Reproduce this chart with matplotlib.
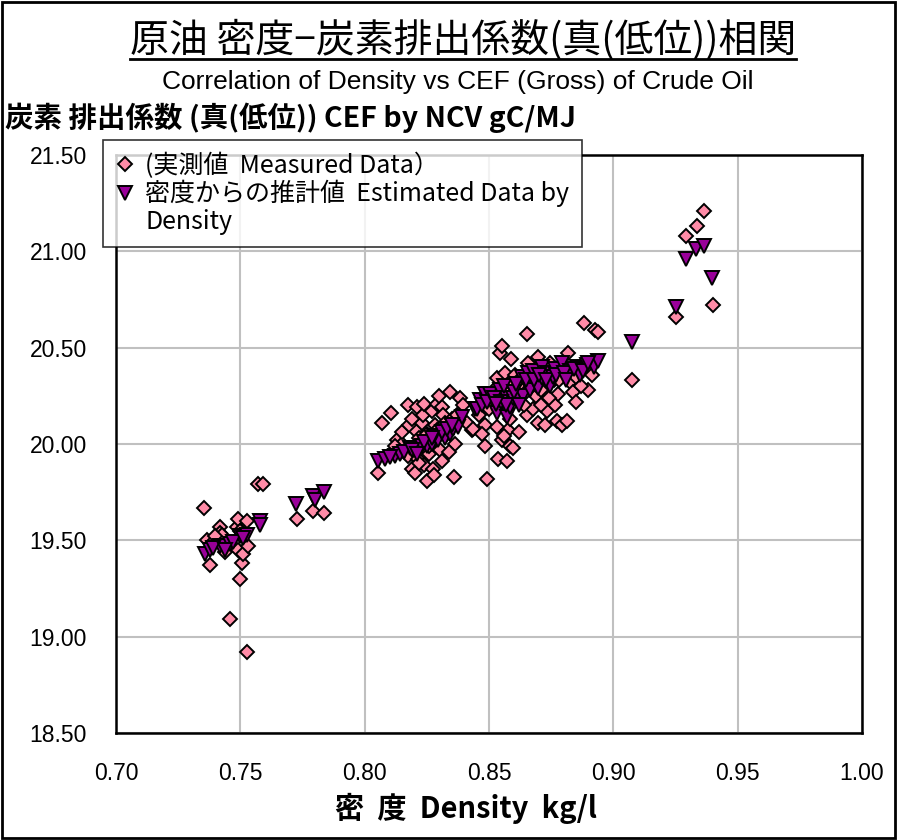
import matplotlib
matplotlib.use("Agg")
import matplotlib.pyplot as plt
from matplotlib.lines import Line2D
from matplotlib.patches import Rectangle

plt.rcParams['font.family'] = ['Noto Sans CJK JP', 'DejaVu Sans']
LATIN = ['Liberation Sans', 'DejaVu Sans']

# measured density (kg/l) and carbon emission factor (gC/MJ)
measured_density = [
    0.7354, 0.7365, 0.7378, 0.7391, 0.7418, 0.7418, 0.7425, 0.7458, 0.7485, 0.7492,
    0.7492, 0.7500, 0.7508, 0.7512, 0.7526, 0.7526, 0.7572, 0.7592, 0.7727, 0.7793,
    0.7836, 0.7400, 0.7440, 0.7500, 0.7530,
    0.8055, 0.8071, 0.8105, 0.8129, 0.8176, 0.8176, 0.8189, 0.8202, 0.8202, 0.8212,
    0.8213, 0.8232, 0.8236, 0.8240, 0.8240, 0.8249, 0.8269, 0.8276, 0.8279, 0.8283,
    0.8289, 0.8303, 0.8310, 0.8316, 0.8323, 0.8343, 0.8360, 0.8363, 0.8383, 0.8397,
    0.8430, 0.8150, 0.8260, 0.8330, 0.8220, 0.8150, 0.8180, 0.8250, 0.8290, 0.8350,
    0.8260, 0.8220, 0.8310, 0.8340, 0.8120, 0.8370, 0.8410, 0.8190, 0.8300,
    0.8437, 0.8484, 0.8484, 0.8491, 0.8531, 0.8531, 0.8537, 0.8544, 0.8551, 0.8553,
    0.8564, 0.8571, 0.8571, 0.8577, 0.8584, 0.8584, 0.8598, 0.8598, 0.8604, 0.8651,
    0.8651, 0.8658, 0.8678, 0.8698, 0.8698, 0.8725, 0.8732, 0.8745, 0.8765, 0.8772,
    0.8779, 0.8792, 0.8812, 0.8819, 0.8826, 0.8839, 0.8883, 0.8899, 0.8913, 0.8926,
    0.8939, 0.8600, 0.8620, 0.8690, 0.8760, 0.8850, 0.8500, 0.8640, 0.8460, 0.8500,
    0.8520, 0.8560, 0.8620, 0.8670, 0.8710, 0.8740, 0.8780, 0.8800, 0.8850, 0.8870,
    0.8680, 0.8590, 0.8710, 0.8640, 0.8470, 0.8560, 0.8620,
    0.9076, 0.9253, 0.9292, 0.9335, 0.9366, 0.9399,
]
measured_cef = [
    19.67, 19.50, 19.37, 19.49, 19.57, 19.54, 19.53, 19.09, 19.57, 19.61,
    19.45, 19.30, 19.38, 19.43, 19.60, 18.92, 19.79, 19.79, 19.61, 19.65,
    19.64, 19.52, 19.44, 19.55, 19.47,
    19.85, 20.11, 20.16, 20.02, 20.20, 19.94, 19.87, 20.07, 19.85, 20.19,
    19.92, 20.11, 20.15, 20.21, 19.89, 19.81, 20.17, 19.87, 19.84, 20.10,
    20.21, 19.97, 20.19, 20.15, 20.11, 20.27, 19.83, 20.00, 20.24, 20.20,
    20.07, 20.00, 19.95, 20.05, 20.03, 20.06, 20.10, 20.05, 20.07, 20.13,
    19.99, 19.90, 19.91, 19.96, 19.99, 20.15, 20.11, 20.13, 20.25,
    20.08, 20.10, 19.99, 19.82, 20.09, 20.34, 19.92, 20.47, 20.02, 20.51,
    20.37, 19.91, 20.26, 20.07, 20.13, 19.99, 20.32, 19.98, 20.36, 20.57,
    20.15, 20.42, 20.18, 20.45, 20.11, 20.10, 20.17, 20.42, 20.20, 20.12,
    20.26, 20.10, 20.12, 20.47, 20.32, 20.27, 20.63, 20.28, 20.36, 20.59,
    20.58, 20.22, 20.30, 20.25, 20.33, 20.22, 20.21, 20.20, 20.15, 20.18,
    20.28, 20.23, 20.33, 20.30, 20.28, 20.24, 20.33, 20.40, 20.35, 20.30,
    20.38, 20.44, 20.20, 20.26, 20.05, 20.04, 20.06,
    20.33, 20.66, 21.08, 21.13, 21.21, 20.72,
]

# values estimated from density
estimated_density = [
    0.7358, 0.7378, 0.7418, 0.7438, 0.7458, 0.7499, 0.7526, 0.7579, 0.7579, 0.7724,
    0.7793, 0.7800, 0.7836, 0.7390, 0.7470, 0.7510, 0.7440,
    0.8055, 0.8082, 0.8122, 0.8142, 0.8182, 0.8202, 0.8229, 0.8249, 0.8269, 0.8296,
    0.8323, 0.8343, 0.8356, 0.8376, 0.8390, 0.8443, 0.8464, 0.8100, 0.8160, 0.8190,
    0.8240, 0.8280, 0.8310, 0.8330, 0.8270, 0.8210, 0.8350,
    0.8450, 0.8484, 0.8504, 0.8531, 0.8544, 0.8571, 0.8571, 0.8584, 0.8598, 0.8624,
    0.8631, 0.8638, 0.8658, 0.8665, 0.8678, 0.8698, 0.8712, 0.8712, 0.8732, 0.8745,
    0.8758, 0.8765, 0.8792, 0.8826, 0.8852, 0.8866, 0.8893, 0.8922, 0.8937, 0.8470,
    0.8490, 0.8520, 0.8550, 0.8560, 0.8600, 0.8610, 0.8650, 0.8680, 0.8700, 0.8730,
    0.8770, 0.8800, 0.8810, 0.8840, 0.8880, 0.8900, 0.8570, 0.8620, 0.8530,
    0.9076, 0.9253, 0.9293, 0.9334, 0.9366, 0.9398,
]
estimated_cef = [
    19.43, 19.45, 19.47, 19.47, 19.48, 19.52, 19.53, 19.60, 19.58, 19.69,
    19.73, 19.71, 19.75, 19.46, 19.49, 19.51, 19.45,
    19.91, 19.92, 19.94, 19.95, 19.98, 19.98, 19.99, 19.99, 20.00, 20.02,
    20.03, 20.05, 20.08, 20.09, 20.14, 20.18, 20.23, 19.93, 19.96, 19.97,
    20.01, 20.04, 20.06, 20.08, 20.03, 19.95, 20.10,
    20.18, 20.26, 20.26, 20.16, 20.28, 20.24, 20.14, 20.19, 20.24, 20.23,
    20.35, 20.25, 20.37, 20.28, 20.38, 20.29, 20.40, 20.34, 20.37, 20.30,
    20.35, 20.39, 20.42, 20.38, 20.40, 20.36, 20.41, 20.40, 20.43, 20.20,
    20.22, 20.24, 20.22, 20.30, 20.27, 20.31, 20.33, 20.33, 20.36, 20.33,
    20.36, 20.37, 20.33, 20.39, 20.38, 20.42, 20.20, 20.20, 20.21,
    20.53, 20.71, 20.96, 21.01, 21.03, 20.86,
]

x_ticks = [0.70, 0.75, 0.80, 0.85, 0.90, 0.95, 1.00]
y_ticks = [18.50, 19.00, 19.50, 20.00, 20.50, 21.00, 21.50]

fig = plt.figure(figsize=(8.97, 8.40), dpi=100)
ax = fig.add_axes([0.1293, 0.1274, 0.8317, 0.6881])

meas, = ax.plot(measured_density, measured_cef, linestyle='none', marker='D',
                markersize=7.3, markerfacecolor='#FF8BA7', markeredgecolor='black',
                markeredgewidth=1.4, zorder=3)
est, = ax.plot(estimated_density, estimated_cef, linestyle='none', marker='v',
               markersize=10, markerfacecolor='#990099', markeredgecolor='black',
               markeredgewidth=1.4, zorder=4)

ax.set_xlim(0.70, 1.00)
ax.set_ylim(18.50, 21.50)
ax.set_xticks(x_ticks)
ax.set_yticks(y_ticks)
ax.set_xticklabels(['%.2f' % v for v in x_ticks], fontsize=16.5, family=LATIN)
ax.set_yticklabels(['%.2f' % v for v in y_ticks], fontsize=16.5, family=LATIN)
ax.tick_params(axis='x', length=0, pad=21)
ax.tick_params(axis='y', length=0, pad=21)
ax.grid(True, color='#C0C0C0', linewidth=1.5)
ax.set_axisbelow(True)
for sp in ax.spines.values():
    sp.set_linewidth(1.8)
    sp.set_color('black')

# the wrapped second label gets its own handle-less row
blank = Line2D([], [], linestyle='none', marker=None)
leg = ax.legend([meas, est, blank],
                ['(実測値  Measured Data）', '密度からの推計値  Estimated Data by',
                 'Density'],
                loc='upper left', bbox_to_anchor=(-0.018, 1.026),
                fontsize=18, frameon=True, fancybox=False, borderpad=0.5,
                handletextpad=0.4, handlelength=0.8, labelspacing=0.05,
                borderaxespad=0)
leg.get_frame().set_edgecolor('black')
leg.get_frame().set_linewidth(1.2)
leg.set_zorder(10)

# titles and axis captions
title = fig.text(0.516, 0.953, '原油 密度−炭素排出係数(真(低位))相関',
                 ha='center', va='center', fontsize=28)
fig.text(0.51, 0.902, 'Correlation of Density vs CEF (Gross) of Crude Oil',
         ha='center', va='center', fontsize=19, family=LATIN)
fig.text(0.006, 0.860, '炭素 排出係数 (真(低位)) CEF by NCV gC/MJ',
         ha='left', va='center', fontsize=20.5, fontweight='bold')
fig.text(0.52, 0.038, '密  度  Density  kg/l', ha='center', va='center',
         fontsize=21, fontweight='bold')

# underline the title
fig.canvas.draw()
bb = title.get_window_extent().transformed(fig.transFigure.inverted())
fig.add_artist(Line2D([bb.x0, bb.x1], [bb.y0 + 0.001, bb.y0 + 0.001],
                      transform=fig.transFigure, color='black', linewidth=2))

# outer frame
fig.add_artist(Rectangle((0.002, 0.002), 0.996, 0.996, transform=fig.transFigure,
                         fill=False, edgecolor='black', linewidth=2))

fig.savefig('out.png', dpi=100)
